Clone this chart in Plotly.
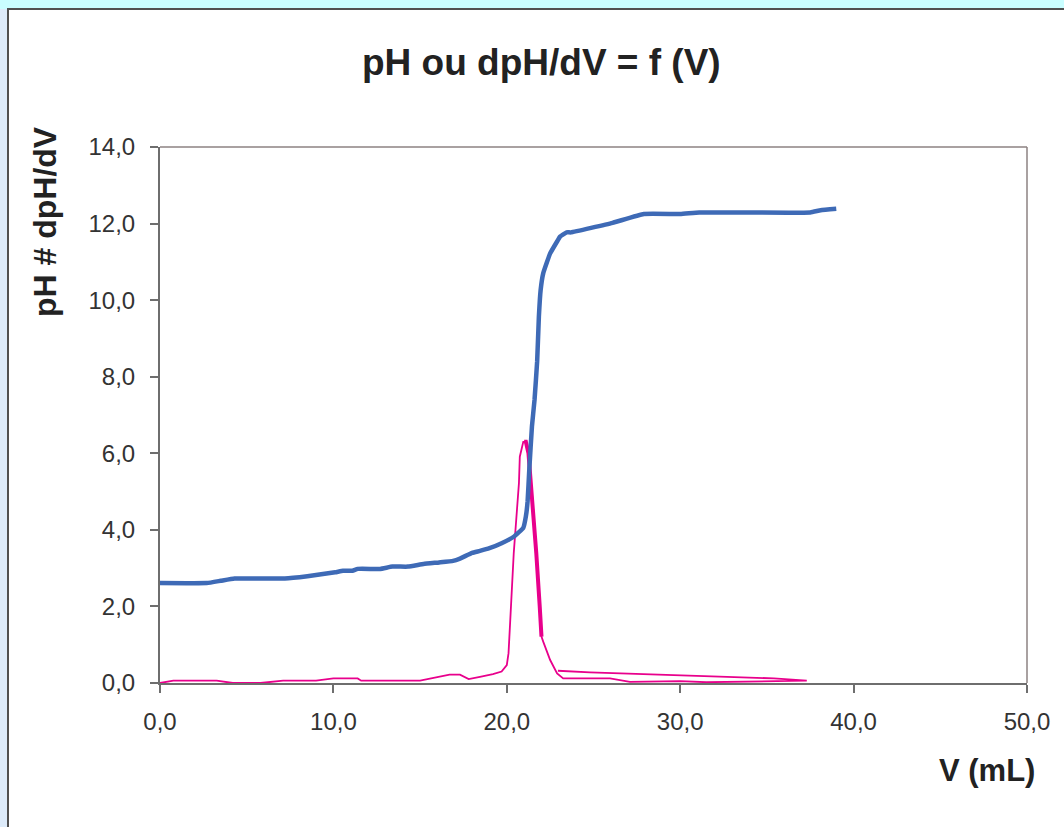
import plotly.graph_objects as go

# Blue curve: pH = f(V)
v_ph = [0.0, 2.7, 3.5, 4.3, 7.2, 8.5, 10.1, 10.55, 11.1, 11.4, 12.7, 13.4, 14.3, 15.2,
        16.1, 16.9, 17.3, 18.0, 18.45, 19.0, 19.7, 20.4, 20.95, 21.1, 21.2, 21.3,
        21.45, 21.6, 21.75, 21.85, 21.95, 22.1, 22.5, 22.95, 23.07, 23.45, 23.7, 26.1,
        27.9, 30.0, 31.1, 37.5, 38.1, 39.0]
ph = [2.61, 2.61, 2.67, 2.73, 2.73, 2.79, 2.89, 2.93, 2.93, 2.98, 2.98, 3.04, 3.04, 3.11,
      3.15, 3.19, 3.25, 3.40, 3.45, 3.52, 3.65, 3.82, 4.05, 4.35, 4.75, 5.60,
      6.70, 7.40, 8.40, 9.57, 10.26, 10.7, 11.22, 11.57, 11.66, 11.77, 11.77, 12.02,
      12.25, 12.25, 12.29, 12.29, 12.35, 12.39]

# Pink curve: dpH/dV = f(V) (as plotted, including the return segment)
v_d = [0.0, 0.77, 3.27, 4.2, 5.8, 7.1, 9.0, 10.0, 11.4, 11.6, 15.0, 16.7, 17.3, 17.8,
       18.45, 19.2, 19.7, 20.0, 20.1, 20.15, 20.2, 20.4, 20.7, 20.75, 20.95, 21.1,
       21.25, 21.5, 21.7, 21.9, 22.0, 22.1, 22.5, 22.9, 23.25, 25.95, 27.1, 30.0,
       31.5, 37.3, 35.4, 32.7, 29.8, 26.9, 24.8, 22.95]
dph = [0.0, 0.06, 0.06, 0.0, 0.0, 0.06, 0.06, 0.12, 0.12, 0.06, 0.06, 0.22, 0.22, 0.10,
       0.16, 0.23, 0.30, 0.47, 0.78, 1.38, 1.65, 3.39, 5.22, 5.91, 6.30, 6.30,
       6.0, 4.69, 3.39, 1.99, 1.21, 1.08, 0.6, 0.25, 0.12, 0.12, 0.03, 0.05,
       0.02, 0.06, 0.12, 0.16, 0.20, 0.25, 0.28, 0.32]

# Thicker (overlapping) descending part of the derivative peak
v_d_peak = [21.0, 21.1, 21.25, 21.5, 21.7, 21.9, 22.0]
dph_peak = [6.30, 6.30, 6.0, 4.69, 3.39, 1.99, 1.21]

x_ticks = [0, 10, 20, 30, 40, 50]
y_ticks = [0, 2, 4, 6, 8, 10, 12, 14]

FONT = "Liberation Sans, Arial, sans-serif"
BLUE = "#3E6AB6"
PINK = "#E8008C"

fig = go.Figure()
fig.add_trace(go.Scatter(x=v_d, y=dph, mode="lines",
                         line=dict(color=PINK, width=1.8), showlegend=False))
fig.add_trace(go.Scatter(x=v_d_peak, y=dph_peak, mode="lines",
                         line=dict(color=PINK, width=4), showlegend=False))
fig.add_trace(go.Scatter(x=v_ph, y=ph, mode="lines",
                         line=dict(color=BLUE, width=4.5, shape="spline", smoothing=0.3),
                         showlegend=False))

W, H = 1064, 827
L, R, T, B = 160, 1027, 147, 683
pw, ph_ = R - L, B - T


def px(x):
    return (x - L) / pw


def py(y):
    return (B - y) / ph_


fig.add_shape(type="rect", xref="paper", yref="paper",
              x0=px(-2), x1=px(8), y0=py(900), y1=py(9),
              fillcolor="#DDEBFA", line=dict(width=0), layer="below")
fig.add_shape(type="rect", xref="paper", yref="paper",
              x0=px(8), x1=px(1100), y0=py(900), y1=py(9),
              fillcolor="white", line=dict(color="#505050", width=2), layer="below")
# top / right frame lines of the plot area
fig.add_shape(type="line", xref="paper", yref="paper", x0=0, x1=1, y0=1, y1=1,
              line=dict(color="#8C8282", width=1.5))
fig.add_shape(type="line", xref="paper", yref="paper", x0=1, x1=1, y0=0, y1=1,
              line=dict(color="#8C8282", width=1.5))

fig.update_layout(
    width=W, height=H,
    margin=dict(l=L, r=W - R, t=T, b=H - B, pad=0),
    paper_bgcolor="#C9FEFF",
    plot_bgcolor="white",
    separators=", ",
    font=dict(family=FONT, size=24, color="#333333"),
    xaxis=dict(range=[0, 50], tickvals=x_ticks, tickformat=".1f",
               showgrid=False, zeroline=False, showline=True, linecolor="#6E6E6E",
               linewidth=2, ticks="outside", ticklen=8, tickcolor="#6E6E6E",
               tickwidth=2, ticklabelstandoff=8,
               tickfont=dict(size=24, color="#333333")),
    yaxis=dict(range=[0, 14], tickvals=y_ticks, tickformat=".1f",
               showgrid=False, zeroline=False, showline=True, linecolor="#6E6E6E",
               linewidth=2, ticks="outside", ticklen=8, tickcolor="#6E6E6E",
               tickwidth=2, ticklabelstandoff=10,
               tickfont=dict(size=24, color="#333333")),
    annotations=[
        dict(text="<b>pH ou dpH/dV = f (V)</b>", xref="paper", yref="paper",
             x=px(541), y=py(62), showarrow=False, xanchor="center", yanchor="middle",
             font=dict(size=37, color="#222222", family=FONT)),
        dict(text="<b>pH # dpH/dV</b>", xref="paper", yref="paper",
             x=px(45), y=py(222), showarrow=False, textangle=-90,
             xanchor="center", yanchor="middle",
             font=dict(size=32, color="#222222", family=FONT)),
        dict(text="<b>V (mL)</b>", xref="paper", yref="paper",
             x=px(1037), y=py(770), showarrow=False, xanchor="right", yanchor="middle",
             font=dict(size=31, color="#222222", family=FONT)),
    ],
)

fig.write_html("out.html",
               config={"displayModeBar": False},
               post_script="document.body.style.margin='0';"
                           "document.body.style.background='#C9FEFF';")
